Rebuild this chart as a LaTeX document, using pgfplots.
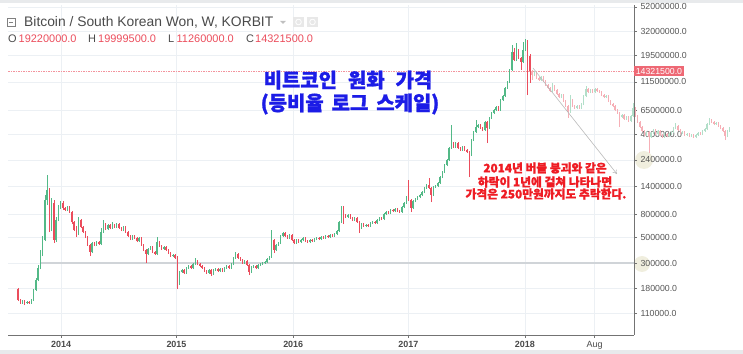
\documentclass[border=0pt]{standalone}
\usepackage{pgfplots}
\pgfplotsset{compat=1.18}
\usetikzlibrary{arrows.meta}
\usepackage{fontspec}
\setmainfont{Liberation Sans}
\newfontfamily\kr{Noto Sans CJK KR}[BoldFeatures={FakeBold=1.3}]
\definecolor{tvgreen}{RGB}{83,185,135}
\definecolor{tvred}{RGB}{235,77,92}
\definecolor{lblgray}{RGB}{85,85,85}
\definecolor{hdrgray}{RGB}{74,74,74}
\definecolor{gridc}{RGB}{236,240,244}
\definecolor{axgray}{RGB}{115,115,115}
\definecolor{titleblue}{RGB}{28,28,230}
\definecolor{annred}{RGB}{238,28,36}
\definecolor{hline}{RGB}{208,212,216}
\definecolor{beige}{RGB}{240,238,222}
\definecolor{stripgray}{RGB}{232,234,236}

% weekly candles, KORBIT BTC/KRW, values in thousand KRW: close/high/low (open = previous close)
\def\realdata{%
143/182/140,134/146/132,140/143/132,134/143/129,137/140/132,134/140/132,143/146/132,175/178/140,%
214/222/171,272/289/209,353/391/266,478/518/346,1069/1182/468,1306/1767/966,584/1360/561,1006/1113/572,%
478/1069/450,714/759/459,910/966/700,1006/1047/892,910/1047/874,874/928/856,928/947/856,839/947/823,%
686/856/659,584/700/572,539/633/508,714/759/528,621/729/608,561/633/550,508/572/497,432/518/424,%
375/441/346,450/459/368,432/459/424,459/468/424,441/468/432,561/608/432,659/714/550,596/672/584,%
646/659/584,608/659/596,646/686/596,621/659/608,659/672/608,608/672/596,584/621/572,621/633/572,%
561/633/550,518/572/508,488/528/478,518/528/478,497/528/488,468/508/459,497/508/459,432/508/424,%
391/441/383,360/399/301,399/407/353,415/424/391,375/424/368,360/383/353,459/508/353,424/468/415,%
399/432/391,415/424/391,391/424/383,368/399/360,346/375/340,353/360/340,333/360/326,205/346/178,%
251/256/193,261/266/246,246/266/241,272/277/241,283/289/266,272/289/266,295/301/266,313/333/289,%
295/320/289,283/301/277,272/289/266,256/277/251,246/261/241,261/266/241,241/266/231,261/266/236,%
266/272/256,256/272/251,266/272/251,256/272/251,272/277/251,283/289/266,272/289/266,295/301/266,%
333/340/289,360/375/326,333/368/326,320/340/313,301/326/295,313/320/295,289/320/283,251/295/236,%
277/283/246,283/289/272,272/289/266,289/295/266,295/301/283,301/307/289,307/313/295,326/333/301,%
340/346/320,478/584/333,391/488/368,432/441/383,450/459/424,518/528/441,550/561/508,518/561/508,%
497/528/488,528/539/488,478/539/468,450/488/441,478/488/441,459/488/450,478/488/450,497/508/468,%
468/508/459,459/478/450,478/488/450,468/488/459,488/497/459,497/508/478,488/508/478,508/518/478,%
497/518/488,518/528/488,508/528/497,528/539/497,518/539/508,539/550/508,572/584/528,686/700/561,%
910/947/672,790/947/659,759/806/744,790/806/744,744/806/729,714/759/700,744/759/700,686/759/672,%
608/700/550,659/672/596,633/672/621,646/659/621,633/659/621,672/686/621,686/700/659,672/700/659,%
714/729/659,744/759/700,729/759/714,806/823/714,839/856/790,823/856/806,874/892/806,856/892/839,%
892/910/839,856/910/839,839/874/823,928/947/823,1006/1026/910,1135/1158/986,1069/1598/1047,910/1090/839,%
1047/1069/892,1090/1113/1026,1135/1158/1069,1182/1206/1113,1255/1281/1158,1360/1388/1230,1445/1474/1333,1360/1664/1333,%
1182/1388/1026,1388/1416/1158,1416/1445/1360,1505/1535/1388,1697/1732/1474,1877/1915/1664,2161/2205/1840,2389/2438/2118,%
3042/3104/2342,3365/4834/2981,3104/3433/3042,3365/3433/3042,3042/3433/2981,2922/3104/2864,3104/3167/2864,2922/3167/2864,%
2807/2981/2751,2643/2864/1697,3574/3646/2590,4197/4282/3503,4641/5350/4114,4834/4932/4549,4549/4932/4458,4369/4641/4282,%
5134/5239/4282,4549/5239/3365,5570/5683/4458,6153/6277/5459,6530/6663/6030,6936/7077/6405,6530/7077/6405,7993/8155/6405,%
8662/8840/7825,10181/10388/8490,11482/11715/9979,14600/14897/11254,20978/24200/14306,17900/22799/17492,21900/25193/17492,18634/22345/18263,%
17144/19013/14600,21900/25705/16803,24200/27242/21405,19220/26700/8840,14321.5/19999.5/11260}

% faded projection (2014 pattern pasted after the peak)
\def\projdata{%
13200/14600/11900,14021/14306/12897,12388/14306/12142,11900/12640/11715,12640/12897/11715,11715/12897/11482,10810/11900/10598,10181/11030/9979,%
9580/10388/9389,10598/11254/9389,9780/10810/9580,9020/9979/8840,8490/9203/8321,8840/9020/8321,7825/9020/7669,7077/7993/6936,%
6277/7220/5570,7993/8840/6153,7077/8155/6936,6798/7220/6663,7077/7220/6663,6798/7220/6663,7367/7516/6663,8662/8840/7220,%
9979/10598/8490,9389/10181/9203,9780/9979/9203,9389/9979/9203,9979/10181/9203,9580/10181/9389,9389/9780/9203,8840/9580/8662,%
8490/9020/8321,8662/8840/8321,7825/8840/7669,7367/7993/7220,7077/7516/6936,6530/7220/6405,6153/6663/6030,5683/6277/4641,%
5910/6030/5570,5459/6030/5350,5683/5798/5350,5239/5798/5134,5798/5910/5134,6798/7516/5683,5798/6936/5683,5134/5910/5032,%
4641/5239/4549,4282/4735/4197,3951/4369/3873,4197/4282/3873,3796/4282/2751,4114/4197/3720,4369/4458/4032,4032/4458/3951,%
4282/4369/3951,3951/4369/3873,3796/4032/3720,4032/4114/3720,3873/4114/3796,4032/4114/3796,4197/4282/3951,4549/4641/4114,%
4735/5032/4458,4369/4834/4282,4114/4458/4032,4197/4282/4032,3951/4282/3873,4032/4114/3873,3873/4114/3796,3951/4032/3796,%
3796/4032/3720,3951/4032/3720,4114/4197/3873,4032/4197/3951,4282/4369/3951,4458/4549/4197,4932/5032/4369,5350/5570/4834,%
5134/5459/5032,4932/5239/4834,5032/5134/4834,4735/5134/4641,4549/4834/4458,4282/4641/4197,3873/4369/3574,4282/4369/3796,4549/4641/4197}

% build segment lists (wick: low-high, body: open-close), split by direction
\newcommand\buildcandles[3]{% #1 data, #2 first index, #3 prefix
  \expandafter\gdef\csname #3upW\endcsname{}%
  \expandafter\gdef\csname #3upB\endcsname{}%
  \expandafter\gdef\csname #3dnW\endcsname{}%
  \expandafter\gdef\csname #3dnB\endcsname{}%
  \foreach \vc/\vh/\vl [count=\vi from #2] in #1 {%
    \pgfmathfloatparsenumber{\vc}\let\fc\pgfmathresult
    \pgfmathfloatparsenumber{\vo}\let\fo\pgfmathresult
    \pgfmathfloatlessthan{\fc}{\fo}%
    \ifpgfmathfloatcomparison
      \expandafter\xdef\csname #3dnW\endcsname{\csname #3dnW\endcsname(\vi,\vl)(\vi,\vh)(\vi,nan)}%
      \expandafter\xdef\csname #3dnB\endcsname{\csname #3dnB\endcsname(\vi,\vo)(\vi,\vc)(\vi,nan)}%
    \else
      \expandafter\xdef\csname #3upW\endcsname{\csname #3upW\endcsname(\vi,\vl)(\vi,\vh)(\vi,nan)}%
      \expandafter\xdef\csname #3upB\endcsname{\csname #3upB\endcsname(\vi,\vo)(\vi,\vc)(\vi,nan)}%
    \fi
    \xdef\vo{\vc}%
  }%
}
\xdef\vo{178}
\buildcandles{\realdata}{0}{r}
\buildcandles{\projdata}{229}{p}

\newcommand\segplot[2]{\edef\next{\noexpand\addplot[#1] coordinates {#2};}\next}

\pgfplotsset{
  wick/.style={line width=0.55bp, mark=none, forget plot},
  body/.style={line width=1.45bp, mark=none, forget plot, line cap=butt},
}

\begin{document}
\begin{tikzpicture}
% background decorations
\fill[stripgray] (-8bp,332bp) rectangle (735bp,335bp);
\fill[stripgray] (-8bp,-19bp) rectangle (735bp,-15bp);
\fill[beige] (636bp,175bp) circle (9bp);
\fill[beige] (634bp,71bp) circle (8bp);

\begin{axis}[
  at={(0,0)}, anchor=south west,
  width=626bp, height=330bp, scale only axis,
  xmin=-4.45, xmax=274.4,
  ymode=log, ymin=70.7, ymax=54100,
  axis x line*=bottom, axis y line*=right,
  axis line style={draw=axgray, line width=0.9bp},
  xtick={19.2,70.6,122.6,173.9,225.8,256.9},
  xticklabels={\textbf{2014},\textbf{2015},\textbf{2016},\textbf{2017},\textbf{2018},Aug},
  ytick={110,180,300,500,800,1400,2400,4000,6500,11500,19500,32000,52000},
  yticklabels={110000.0,180000.0,300000.0,500000.0,800000.0,1400000.0,2400000.0,4000000.0,6500000.0,11500000.0,19500000.0,32000000.0,52000000.0},
  minor tick num=0,
  tick align=outside, major tick length=3bp,
  tick style={draw=axgray, line width=0.6bp},
  grid=major, major grid style={draw=gridc, line width=0.6bp},
  xticklabel style={font=\fontsize{9}{10}\selectfont, text=hdrgray},
  yticklabel style={font=\fontsize{8.8}{10}\selectfont, text=lblgray},
  unbounded coords=jump, clip=false,
]
\addplot[draw=hline, line width=1.6bp, forget plot] coordinates {(10.2,300)(274.4,300)};
\addplot[draw=tvred!60, line width=0.6bp, dash pattern=on 1.5bp off 1bp, forget plot] coordinates {(-4.45,14321.5)(274.4,14321.5)};
% projection (faded)
\segplot{wick,draw=tvgreen!45!white}{\pupW}
\segplot{wick,draw=tvred!45!white}{\pdnW}
\segplot{body,draw=tvgreen!45!white}{\pupB}
\segplot{body,draw=tvred!45!white}{\pdnB}
% real candles
\segplot{wick,draw=tvgreen}{\rupW}
\segplot{wick,draw=tvred}{\rdnW}
\segplot{body,draw=tvgreen}{\rupB}
\segplot{body,draw=tvred}{\rdnB}
% arrow of the projection
\draw[gray!55, line width=0.6bp, -{To[length=4bp,width=5bp]}] (axis cs:229.4,15215) -- (axis cs:266.8,1803);
% last price box
\node[fill=tvred!85!white, text=white, anchor=west, inner sep=1.6bp,
      font=\fontsize{8.8}{10}\selectfont] at (axis cs:274.4,14321.5) {14321500.0};
\end{axis}

% header
\draw[hdrgray!70, line width=0.8bp] (-1bp,309bp) rectangle (7bp,317bp);
\draw[hdrgray!70, line width=0.8bp] (1bp,313bp) -- (5bp,313bp);
\node[anchor=base west, inner sep=0, text=hdrgray, font=\fontsize{13.9}{16}\selectfont] at (16bp,308bp) {Bitcoin / South Korean Won, W, KORBIT};
\fill[gray!50] (272bp,314bp) -- (278bp,314bp) -- (275bp,311bp) -- cycle;
\fill[gray!18] (285bp,308bp) rectangle (296bp,318bp);
\fill[gray!18] (299bp,308bp) rectangle (310bp,318bp);
\draw[white, line width=0.8bp] (290.5bp,313bp) circle (2.8bp);
\draw[white, line width=0.8bp] (304.5bp,313bp) circle (2.8bp);
\begin{scope}[every node/.style={anchor=base west, inner sep=0, font=\fontsize{11}{13}\selectfont}]
\node[text=hdrgray] at (0bp,292bp) {O};
\node[text=tvred] at (10.5bp,292bp) {19220000.0};
\node[text=hdrgray] at (80bp,292bp) {H};
\node[text=tvred] at (90bp,292bp) {19999500.0};
\node[text=hdrgray] at (160bp,292bp) {L};
\node[text=tvred] at (168.5bp,292bp) {11260000.0};
\node[text=hdrgray] at (238bp,292bp) {C};
\node[text=tvred] at (247bp,292bp) {14321500.0};
\end{scope}

% titles
\node[text=titleblue, font=\kr\bfseries\fontsize{20}{24}\selectfont, inner sep=0] at (340bp,255bp) {비트코인\hspace{0.55em}원화\hspace{0.55em}가격};
\node[text=titleblue, font=\kr\bfseries\fontsize{20}{24}\selectfont, inner sep=0] at (342bp,231bp) {(등비율\hspace{0.4em}로그\hspace{0.4em}스케일)};
\node[text=annred, font=\kr\bfseries\fontsize{11.8}{14}\selectfont, inner sep=0] at (537bp,167bp) {2014년 버블 붕괴와 같은};
\node[text=annred, font=\kr\bfseries\fontsize{11.8}{14}\selectfont, inner sep=0] at (537bp,153bp) {하락이 1년에 걸쳐 나타나면};
\node[text=annred, font=\kr\bfseries\fontsize{11.8}{14}\selectfont, inner sep=0] at (538bp,141bp) {가격은 250만원까지도 추락한다.};

\pgfresetboundingbox
\path[use as bounding box] (-8bp,-19bp) rectangle (735bp,335bp);
\end{tikzpicture}
\end{document}
